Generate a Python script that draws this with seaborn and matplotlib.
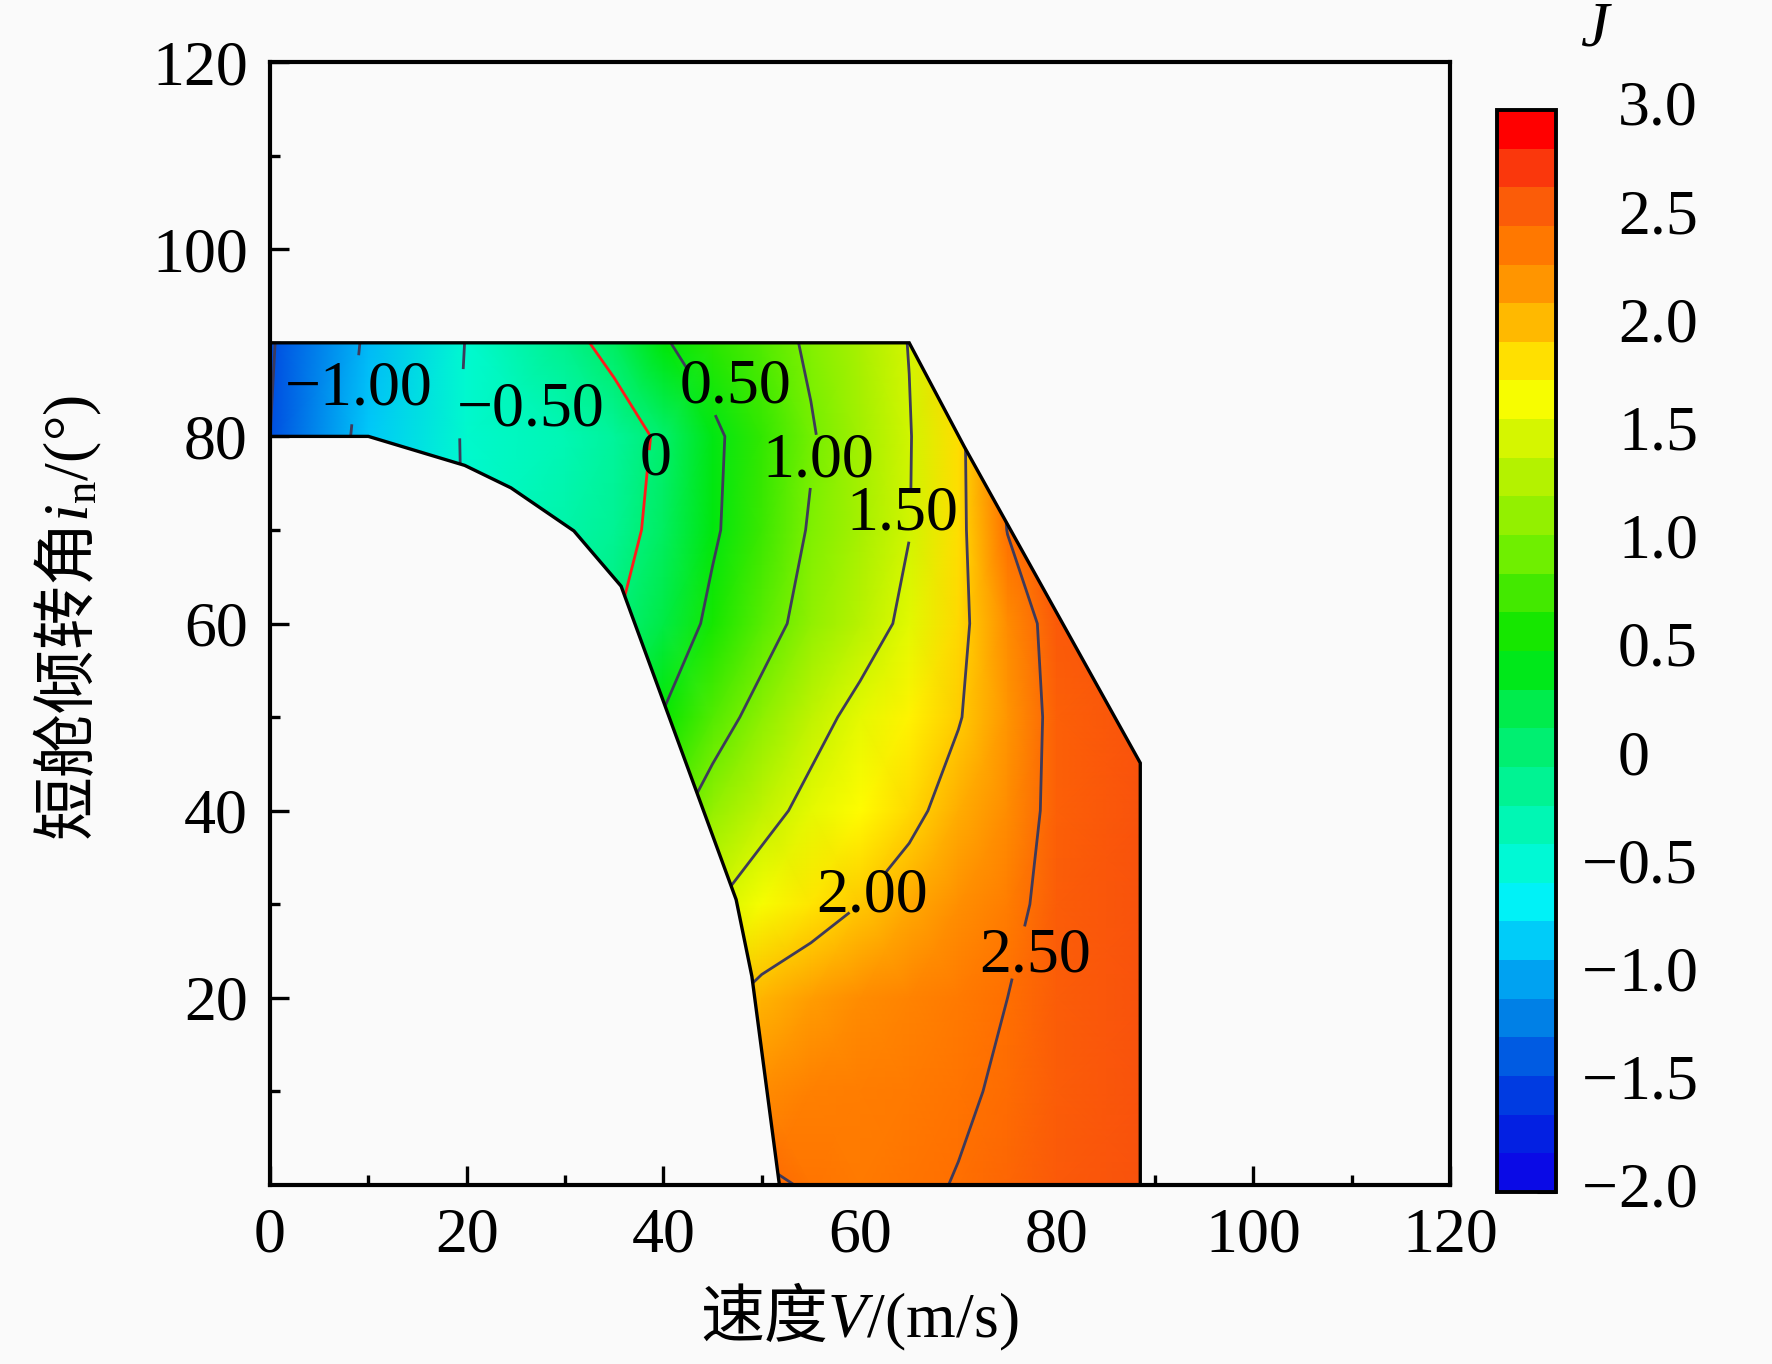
import numpy as np
import matplotlib
matplotlib.use('Agg')
import matplotlib.pyplot as plt
import seaborn as sns
from matplotlib.colors import LinearSegmentedColormap, Normalize
from matplotlib.patches import Polygon
from matplotlib.cm import ScalarMappable

sns.set_style('ticks')
plt.rcParams['font.family'] = ['Liberation Serif', 'Noto Sans CJK SC']
plt.rcParams['mathtext.fontset'] = 'custom'
plt.rcParams['mathtext.rm'] = 'Liberation Serif'
plt.rcParams['mathtext.it'] = 'Liberation Serif:italic'
plt.rcParams['axes.unicode_minus'] = True
for key in ['text.color', 'axes.labelcolor', 'xtick.color', 'ytick.color']:
    plt.rcParams[key] = 'black'

# Grid nodes (speed V in m/s, tilt angle i_n in deg)
speed = [0, 10, 20, 30, 35, 40, 45, 50, 55, 60, 65, 70, 75, 80, 90]
angle = [0, 10, 20, 30, 40, 50, 60, 70, 80, 90]

# J, one row per angle
j_a0 = [-0.40, 0.20, 0.80, 1.30, 1.60, 1.90, 2.20, 2.56, 2.47, 2.42, 2.46, 2.51, 2.56, 2.63, 2.70]
j_a10 = [-0.60, 0.00, 0.60, 1.10, 1.40, 1.70, 2.00, 2.30, 2.38, 2.40, 2.43, 2.47, 2.53, 2.62, 2.70]
j_a20 = [-0.80, -0.20, 0.40, 0.90, 1.20, 1.50, 1.90, 2.10, 2.20, 2.30, 2.36, 2.42, 2.50, 2.62, 2.70]
j_a30 = [-1.00, -0.40, 0.10, 0.60, 0.90, 1.20, 1.48, 1.70, 1.86, 2.00, 2.15, 2.28, 2.40, 2.62, 2.70]
j_a40 = [-1.20, -0.60, -0.15, 0.30, 0.55, 0.85, 1.15, 1.38, 1.60, 1.76, 1.92, 2.13, 2.30, 2.60, 2.70]
j_a50 = [-1.30, -0.70, -0.30, 0.00, 0.20, 0.52, 0.85, 1.12, 1.38, 1.60, 1.80, 1.98, 2.25, 2.60, 2.70]
j_a60 = [-1.40, -0.80, -0.42, -0.20, -0.02, 0.25, 0.58, 0.86, 1.13, 1.34, 1.58, 1.91, 2.30, 2.63, 2.70]
j_a70 = [-1.45, -0.85, -0.48, -0.28, -0.15, 0.12, 0.45, 0.75, 1.03, 1.25, 1.49, 1.90, 2.51, 2.66, 2.70]
j_a80 = [-1.50, -0.89, -0.47, -0.33, -0.20, 0.07, 0.43, 0.71, 0.97, 1.23, 1.48, 1.90, 2.60, 2.66, 2.70]
j_a90 = [-1.53, -0.95, -0.49, -0.12, 0.12, 0.47, 0.67, 0.85, 1.05, 1.27, 1.51, 2.00, 2.55, 2.65, 2.70]

# Boundary of the valid region
region_v = [0, 65.0, 70.6, 88.5, 88.5, 51.8, 49.0, 47.4, 35.7, 30.9, 24.5, 19.8, 10.0, 0]
region_i = [90, 90, 78.9, 45.1, 0, 0, 22.3, 30.5, 64.0, 69.9, 74.5, 76.9, 80.0, 80]

line_levels = [-1.5, -1.0, -0.5, 0.0, 0.5, 1.0, 1.5, 2.0, 2.5]

# colour stops of the scale
stop_values = [-2.0, -1.75, -1.5, -1.25, -1.0, -0.75, -0.5, -0.25, 0.0, 0.25, 0.5,
               0.75, 1.0, 1.25, 1.5, 1.75, 2.0, 2.25, 2.5, 2.75, 3.0]
stop_colors = ['#0a0ae6', '#0028e1', '#0050e1', '#0082e6', '#00aff5', '#00f0ff',
               '#00fad2', '#00f5a5', '#00f078', '#00eb46', '#00e600', '#3ce800',
               '#78f000', '#a5f000', '#d2f500', '#ffff00', '#ffc800', '#ff9600',
               '#ff7000', '#f84a10', '#ff0000']

cbar_ticks = [3.0, 2.5, 2.0, 1.5, 1.0, 0.5, 0.0, -0.5, -1.0, -1.5, -2.0]

cmap = LinearSegmentedColormap.from_list(
    'origin_rainbow',
    [((v + 2.0) / 5.0, c) for v, c in zip(stop_values, stop_colors)]
)
norm = Normalize(vmin=-2.0, vmax=3.0)

J = np.array([j_a0, j_a10, j_a20, j_a30, j_a40, j_a50, j_a60, j_a70, j_a80, j_a90])
VV, II = np.meshgrid(speed, angle)

bg = '#fafafa'
fig = plt.figure(figsize=(17.72, 13.64), dpi=100, facecolor=bg)
ax = fig.add_axes([0.1524, 0.1312, 0.6659, 0.8233])
ax.set_facecolor(bg)

clip = Polygon(np.column_stack([region_v, region_i]), closed=True,
               transform=ax.transData)

mesh = ax.pcolormesh(VV, II, J, shading='gouraud', cmap=cmap, norm=norm, zorder=1)
mesh.set_clip_path(clip)

line_colors = ['#ff1a1a' if lv == 0 else '#3e3a5a' for lv in line_levels]
cs = ax.contour(VV, II, J, levels=line_levels, colors=line_colors,
                linewidths=2.0, zorder=2)
cs.set_clip_path(clip)


def fmt(v):
    if abs(v) < 1e-9:
        return '0'
    return f'{v:.2f}'.replace('-', '\u2212')


# where the label sits on its line, and where its text is shown
snap_pos = [(8.5, 85), (19.3, 83.5), (38.9, 77.5), (44.3, 85),
            (55.5, 77.3), (65.2, 71.6), (61.0, 31.0), (77.5, 24.5)]
text_pos = [(9.0, 85.0), (26.5, 82.8), (39.2, 77.5), (47.3, 85.2),
            (55.8, 77.3), (64.3, 71.6), (61.2, 30.8), (77.8, 24.4)]
labels = ax.clabel(cs, levels=line_levels, fmt=fmt, fontsize=27,
                   inline=True, inline_spacing=3, manual=snap_pos)
for t, p in zip(labels, text_pos):
    t.set_rotation(0)
    t.set_fontsize(46)
    t.set_position(p)
    t.set_color('black')
    t.set_zorder(5)

ax.add_patch(Polygon(np.column_stack([region_v, region_i]), closed=True,
                     fill=False, edgecolor='black', linewidth=2.4, zorder=4))

ax.set_xlim(0, 120)
ax.set_ylim(0, 120)
ax.set_xticks(np.arange(0, 121, 20))
ax.set_xticks(np.arange(10, 120, 20), minor=True)
ax.set_yticks(np.arange(20, 121, 20))
ax.set_yticks(np.arange(10, 120, 20), minor=True)
ax.tick_params(which='both', direction='in', top=False, right=False,
               labelsize=46, pad=16, color='black', labelcolor='black')
ax.tick_params(which='major', length=14, width=2.4)
ax.tick_params(which='minor', length=7, width=2.4)
for s in ax.spines.values():
    s.set_linewidth(3.0)
    s.set_color('black')
    s.set_zorder(6)

# CJK part in the text font, Latin part through mathtext (serif)
ax.set_xlabel('速度$V\\mathrm{/(m/s)}$', fontsize=46,
              fontfamily='Noto Sans CJK SC')
ax.set_ylabel('短舱倾转角$i_{\\mathrm{n}}\\mathrm{/(°)}$', fontsize=46,
              fontfamily='Noto Sans CJK SC')
ax.xaxis.set_label_coords(0.499, -0.085)
ax.yaxis.set_label_coords(-0.141, 0.505)

# colour bar
cax = fig.add_axes([0.8448, 0.1261, 0.0333, 0.7933])
sm = ScalarMappable(norm=norm, cmap=cmap.resampled(28))
cb = fig.colorbar(sm, cax=cax)
cb.outline.set_linewidth(2.8)
cb.outline.set_edgecolor('black')
cb.set_ticks(cbar_ticks)
cax.tick_params(direction='in', length=14, width=2.2, labelright=False,
                right=True, left=False, color='black')
ty = cax.get_yaxis_transform()
for v in cbar_ticks:
    s = f'{abs(v):.1f}' if v != 0 else '0'
    cax.text(2.05, v, s, transform=ty, ha='left', va='center', fontsize=46)
    if v < 0:
        cax.text(2.05, v, '\u2212', transform=ty, ha='right', va='center',
                 fontsize=46)
fig.text(0.901, 0.978, '$J$', ha='center', va='center', fontsize=46)

fig.savefig('out.png', dpi=100, facecolor=bg)
